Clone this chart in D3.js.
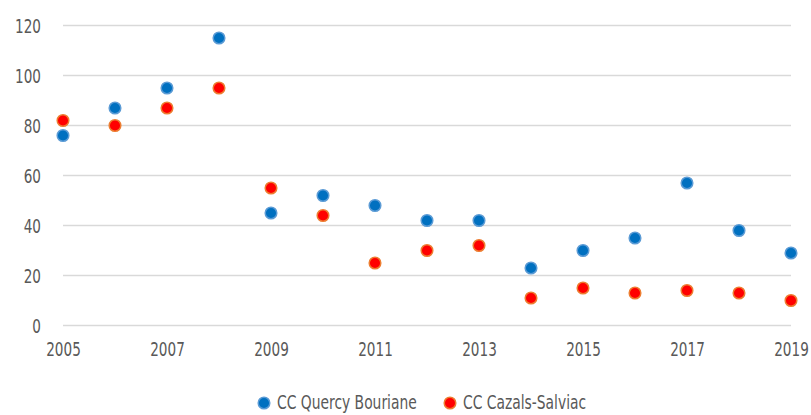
<!DOCTYPE html>
<html><head><meta charset="utf-8">
<script src="https://cdn.jsdelivr.net/npm/d3@7"></script>
<style>
body{margin:0;background:#fff;}
text{font-family:"DejaVu Sans",sans-serif;fill:#595959;}
</style></head>
<body><svg id="c" width="811" height="415"></svg>
<script>
const years = [2005,2006,2007,2008,2009,2010,2011,2012,2013,2014,2015,2016,2017,2018,2019];
const quercy = [76,87,95,115,45,52,48,42,42,23,30,35,57,38,29];
const cazals = [82,80,87,95,55,44,25,30,32,11,15,13,14,13,10];
const yTicks = [0,20,40,60,80,100,120];
const xTicks = [2005,2007,2009,2011,2013,2015,2017,2019];
const seriesNames = ["CC Quercy Bouriane","CC Cazals-Salviac"];

const SX = 0.68;
const svg = d3.select("#c");
const x = d3.scaleLinear().domain([2005,2019]).range([63,791]);
const y = d3.scaleLinear().domain([0,120]).range([325.5,25.5]);

svg.append("g").selectAll("line").data(yTicks).join("line")
  .attr("x1",63).attr("x2",791)
  .attr("y1",d=>y(d)).attr("y2",d=>y(d))
  .attr("stroke","#d9d9d9").attr("stroke-width",1.5);

const yAxis = d3.axisLeft(y).tickValues(yTicks).tickSize(0).tickPadding(0);
const gy = svg.append("g").attr("transform","translate(41,0)").call(yAxis);
gy.select(".domain").remove();
gy.attr("font-family",null).attr("font-size",null);
gy.selectAll("text").attr("font-size",20).attr("x",0).attr("dy","0.35em").attr("transform",`scale(${SX},1)`);

const xAxis = d3.axisBottom(x).tickValues(xTicks).tickFormat(d3.format("d")).tickSize(0).tickPadding(0);
const gx = svg.append("g").attr("transform","translate(0,341)").call(xAxis);
gx.select(".domain").remove();
gx.attr("font-family",null).attr("font-size",null);
gx.selectAll("text").attr("font-size",20).attr("y",0).attr("dy","0.75em").attr("transform",`scale(${SX},1)`);

const styles = [{fill:"#0070c0",stroke:"#5b9bd5"},{fill:"#ff0000",stroke:"#ed7d31"}];
[quercy,cazals].forEach((vals,i)=>{
  svg.append("g").selectAll("circle").data(vals).join("circle")
    .attr("cx",(d,j)=>x(years[j])).attr("cy",d=>y(d)).attr("r",5.8)
    .attr("fill",styles[i].fill).attr("stroke",styles[i].stroke).attr("stroke-width",1.5);
});

const leg = [264,450];
seriesNames.forEach((n,i)=>{
  const g = svg.append("g").attr("transform",`translate(${leg[i]},403)`);
  g.append("circle").attr("r",5.8).attr("fill",styles[i].fill).attr("stroke",styles[i].stroke).attr("stroke-width",1.5);
  g.append("g").attr("transform",`translate(13,0) scale(0.73,1)`)
    .append("text").attr("dy","0.3em").attr("font-size",19).text(n);
});
</script></body></html>
